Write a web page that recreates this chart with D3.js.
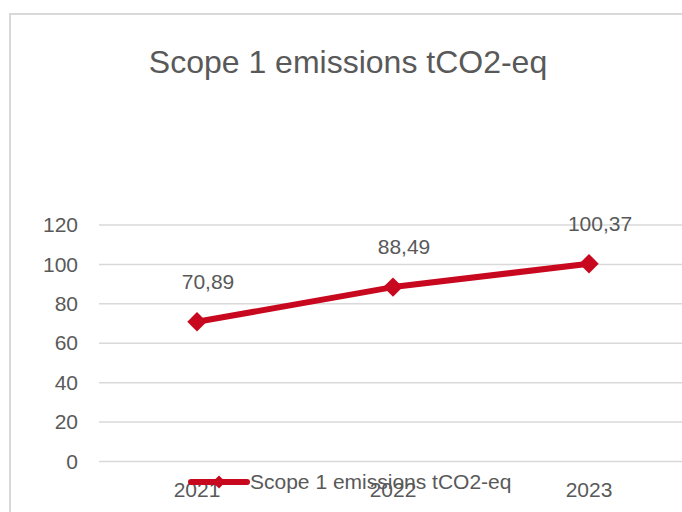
<!DOCTYPE html>
<html>
<head>
<meta charset="utf-8">
<script src="https://cdn.jsdelivr.net/npm/d3@7"></script>
<style>
  body { margin: 0; background: #fff; }
  text { font-family: "Liberation Sans", Arial, sans-serif; fill: #595959; }
</style>
</head>
<body>
<div id="chart"></div>
<script>
const years = ["2021", "2022", "2023"];
const emissions = [70.89, 88.49, 100.37];
const yTicks = [0, 20, 40, 60, 80, 100, 120];
const seriesName = "Scope 1 emissions tCO2-eq";

const W = 682, H = 512;
const red = "#c8081f";

const svg = d3.select("#chart").append("svg")
    .attr("width", W).attr("height", H);

// chart frame (runs off the right/bottom edges)
svg.append("rect")
    .attr("x", 10).attr("y", 14)
    .attr("width", W + 20).attr("height", H + 20)
    .attr("fill", "#fff").attr("stroke", "#d9d9d9").attr("stroke-width", 2);

svg.append("text")
    .attr("x", 348).attr("y", 73)
    .attr("text-anchor", "middle")
    .style("font-size", "32px")
    .text(seriesName);

const x = d3.scaleBand().domain(years).range([99, 687]);
const y = d3.scaleLinear().domain([0, 120]).range([461.5, 225]);

// gridlines
svg.append("g").selectAll("line").data(yTicks).join("line")
    .attr("x1", 99).attr("x2", 682)
    .attr("y1", d => y(d)).attr("y2", d => y(d))
    .attr("stroke", "#d9d9d9").attr("stroke-width", 1.5);

// y axis labels
const yAxis = svg.append("g")
    .attr("transform", "translate(88,0)")
    .call(d3.axisLeft(y).tickValues(yTicks).tickSize(0).tickPadding(0));
yAxis.select(".domain").remove();
yAxis.selectAll("text")
    .attr("x", -10)
    .style("font-size", "21px")
    .style("font-family", "Liberation Sans, Arial, sans-serif")
    .attr("fill", "#595959");

// x axis labels
const xAxis = svg.append("g")
    .attr("transform", "translate(0,480)")
    .call(d3.axisBottom(x).tickSize(0).tickPadding(0));
xAxis.select(".domain").remove();
xAxis.selectAll("text")
    .attr("dy", "0.8em")
    .style("font-size", "21px")
    .style("font-family", "Liberation Sans, Arial, sans-serif")
    .attr("fill", "#595959");

const pts = years.map((yr, i) => ({ yr, v: emissions[i] }));
const cx = d => x(d.yr) + x.bandwidth() / 2;

svg.append("path")
    .datum(pts)
    .attr("d", d3.line().x(cx).y(d => y(d.v)))
    .attr("fill", "none").attr("stroke", red)
    .attr("stroke-width", 6).attr("stroke-linejoin", "round");

const diamond = d3.symbol().type(d3.symbolDiamond2);
svg.append("g").selectAll("path").data(pts).join("path")
    .attr("transform", d => `translate(${cx(d)},${y(d.v)})`)
    .attr("d", diamond.size(240))
    .attr("fill", red);

// data labels
svg.append("g").selectAll("text").data(pts).join("text")
    .attr("x", d => cx(d) + 11)
    .attr("y", d => y(d.v) - 33)
    .attr("text-anchor", "middle")
    .style("font-size", "21px")
    .text(d => d3.format(".2f")(d.v).replace(".", ","));

// legend
const lg = svg.append("g").attr("transform", "translate(191,482)");
lg.append("line").attr("x1", 0).attr("x2", 56)
    .attr("stroke", red).attr("stroke-width", 6).attr("stroke-linecap", "round");
lg.append("path").attr("transform", "translate(28,0)")
    .attr("d", d3.symbol().type(d3.symbolDiamond2).size(110)())
    .attr("fill", red);
lg.append("text").attr("x", 59).attr("y", 7)
    .style("font-size", "21px")
    .text(seriesName);
</script>
</body>
</html>
